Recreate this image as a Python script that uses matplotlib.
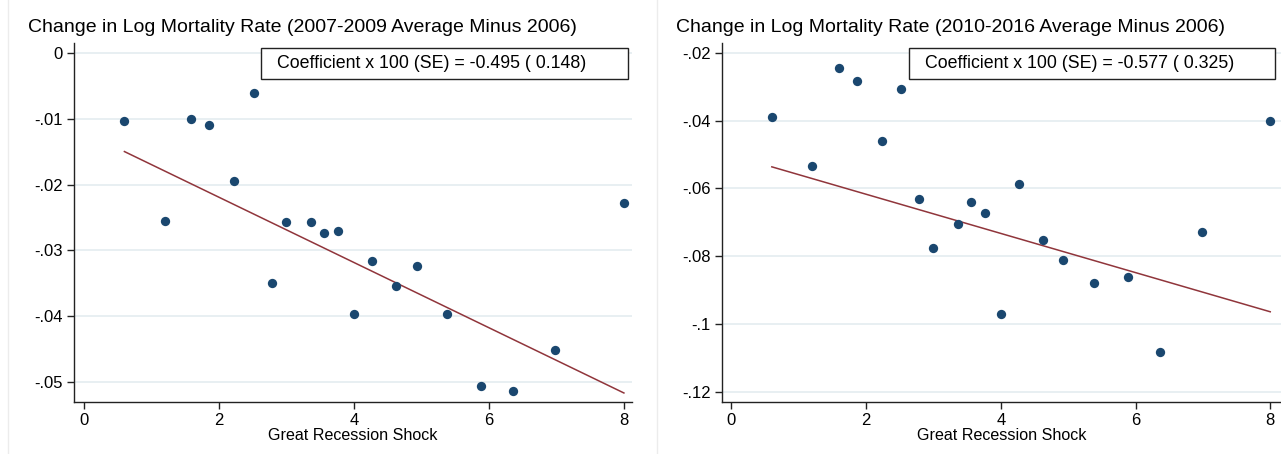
import matplotlib.pyplot as plt
import matplotlib.lines as mlines
import numpy as np

plt.rcParams['font.family'] = ['Liberation Sans', 'DejaVu Sans']

shock = [0.60, 1.20, 1.59, 1.86, 2.23, 2.52, 2.79, 3.00, 3.36, 3.55,
         3.76, 4.00, 4.27, 4.63, 4.93, 5.38, 5.89, 6.36, 6.98, 8.00]
chg_0709 = [-0.0104, -0.0256, -0.0100, -0.0110, -0.0194, -0.0061, -0.0349,
            -0.0257, -0.0257, -0.0274, -0.0270, -0.0397, -0.0316, -0.0354,
            -0.0324, -0.0396, -0.0505, -0.0514, -0.0451, -0.0228]
chg_1016 = [-0.0388, -0.0533, -0.0246, -0.0284, -0.0461, -0.0306, -0.0632,
            -0.0776, -0.0705, -0.0641, -0.0672, -0.0969, -0.0586, -0.0752,
            -0.0812, -0.0878, -0.0861, -0.1081, -0.0727, -0.0400]

slope = [-0.00495, -0.00577]
intercept = [-0.01203, -0.05016]
titles = ['Change in Log Mortality Rate (2007-2009 Average Minus 2006)',
          'Change in Log Mortality Rate (2010-2016 Average Minus 2006)']
coef_text = ['Coefficient x 100 (SE) = -0.495 ( 0.148)',
             'Coefficient x 100 (SE) = -0.577 ( 0.325)']
yticks = [[0, -0.01, -0.02, -0.03, -0.04, -0.05],
          [-0.02, -0.04, -0.06, -0.08, -0.1, -0.12]]
ytick_labels = [['0', '-.01', '-.02', '-.03', '-.04', '-.05'],
                ['-.02', '-.04', '-.06', '-.08', '-.1', '-.12']]
xticks = [0, 2, 4, 6, 8]

navy = '#1a476f'
maroon = '#90353b'
W, H = 1281, 454

fig = plt.figure(figsize=(W / 100, H / 100), dpi=100)

# faint graph-region borders
for xp in [8, 657]:
    fig.add_artist(mlines.Line2D([xp / W, xp / W], [0, 1], color='#ececec', lw=1))

panels = [
    dict(rect=[74 / W, 1 - 402 / H, (632 - 74) / W, (402 - 43) / H],
         xlim=(-0.147, 8.12), ylim=(-0.0530, 0.00147), y=chg_0709,
         title_x=28, box=(261, 628)),
    dict(rect=[722 / W, 1 - 402 / H, (1281 - 722) / W, (402 - 43) / H],
         xlim=(-0.14, 8.16), ylim=(-0.1229, -0.01714), y=chg_1016,
         title_x=676, box=(909, 1275)),
]

for i, p in enumerate(panels):
    ax = fig.add_axes(p['rect'])
    ax.set_xlim(*p['xlim'])
    ax.set_ylim(*p['ylim'])
    ax.set_yticks(yticks[i])
    ax.set_yticklabels(ytick_labels[i])
    ax.set_xticks(xticks)
    ax.yaxis.grid(True, color='#e6eef1', lw=1.3)
    ax.set_axisbelow(True)
    for s in ['top', 'right']:
        ax.spines[s].set_visible(False)
    for s in ['left', 'bottom']:
        ax.spines[s].set_color('#222222')
        ax.spines[s].set_linewidth(1.0)
    ax.tick_params(direction='out', length=5, width=1.0, color='#222222',
                   labelsize=12, pad=3)
    ax.scatter(shock, p['y'], s=45, color=navy, zorder=3, linewidths=0)
    xs = np.array([min(shock), max(shock)])
    ax.plot(xs, intercept[i] + slope[i] * xs, color=maroon, lw=1.1, zorder=2)
    ax.set_xlabel('Great Recession Shock', fontsize=11.6, labelpad=0)

    fig.text(p['title_x'] / W, 1 - 27 / H, titles[i], fontsize=14,
             va='center', ha='left')
    b0, b1 = p['box']
    fig.add_artist(plt.Rectangle((b0 / W, 1 - 79 / H), (b1 - b0) / W, 31 / H,
                                 fill=True, facecolor='white', edgecolor='#222222',
                                 lw=1.0, transform=fig.transFigure, zorder=5))
    fig.text((b0 + 16) / W, 1 - 64 / H, coef_text[i], fontsize=12.8,
             va='center', ha='left', zorder=6)

fig.savefig('out.png', dpi=100)
